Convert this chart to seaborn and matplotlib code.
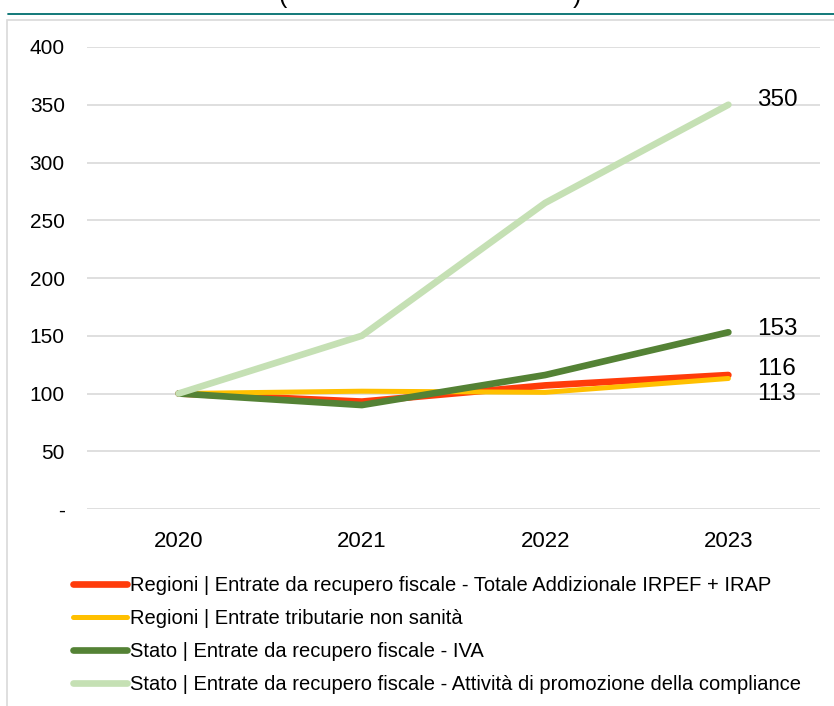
import matplotlib
matplotlib.use("Agg")
import matplotlib.pyplot as plt
import matplotlib.patches as mpatches
from matplotlib.lines import Line2D
import pandas as pd
import seaborn as sns

years = ["2020", "2021", "2022", "2023"]
series_names = [
    "Regioni | Entrate da recupero fiscale - Totale Addizionale IRPEF + IRAP",
    "Regioni | Entrate tributarie non sanità",
    "Stato | Entrate da recupero fiscale - IVA",
    "Stato | Entrate da recupero fiscale - Attività di promozione della compliance",
]
regioni_irpef_irap = [100, 93, 107, 116]
regioni_non_sanita = [100, 102, 101, 113]
stato_iva = [100, 90, 116, 153]
stato_compliance = [100, 150, 265, 350]
end_labels = ["116", "113", "153", "350"]
yticks = [0, 50, 100, 150, 200, 250, 300, 350, 400]
ytick_labels = ["-", "50", "100", "150", "200", "250", "300", "350", "400"]

colors = ["#FF3B0A", "#FFC000", "#548235", "#C5E0B4"]
widths = [4.8, 3.6, 4.8, 4.8]
label_dy = [4.5, -11.5, 2.5, 3.5]  # vertical nudge of end labels, points

values = [regioni_irpef_irap, regioni_non_sanita, stato_iva, stato_compliance]
df = pd.DataFrame(
    [(s, y, v) for s, vals in zip(series_names, values) for y, v in zip(years, vals)],
    columns=["serie", "anno", "valore"],
)

sns.set_theme(style="white")
plt.rcParams["font.family"] = ["Liberation Sans", "DejaVu Sans"]
plt.rcParams["text.color"] = "black"
plt.rcParams["xtick.color"] = "black"
plt.rcParams["ytick.color"] = "black"

fig = plt.figure(figsize=(8.34, 7.06), dpi=100)
ax = fig.add_axes([87 / 834, 1 - 509 / 706, (820 - 87) / 834, (509 - 47) / 706])

for name, col, lw in zip(series_names, colors, widths):
    sub = df[df["serie"] == name]
    sns.lineplot(data=sub, x="anno", y="valore", ax=ax, color=col, linewidth=lw,
                 solid_capstyle="round", legend=False, sort=False)

for vals, lab, dy in zip(values, end_labels, label_dy):
    ax.annotate(lab, xy=(3, vals[-1]), xytext=(21, dy), textcoords="offset points",
                ha="left", va="center", fontsize=17.5, color="black")

ax.set_xlim(-0.5, 3.5)
ax.set_ylim(0, 400)
ax.set_yticks(yticks)
ax.set_yticklabels(ytick_labels)
ax.grid(axis="y", color="#D9D9D9", linewidth=1.2)
ax.set_axisbelow(True)
for sp in ax.spines.values():
    sp.set_visible(False)
ax.tick_params(axis="y", labelsize=15, pad=16, length=0)
ax.tick_params(axis="x", labelsize=16, pad=16, length=0)
ax.set_xlabel("")
ax.set_ylabel("")

# outer light frame and teal rule
fig.patches.append(mpatches.Rectangle((7 / 834, -0.01), 1.0, 1 - 20 / 706 + 0.01,
                                      transform=fig.transFigure, fill=False,
                                      edgecolor="#D9D9D9", linewidth=1.2))
fig.add_artist(Line2D([8 / 834, 1.0], [1 - 14 / 706, 1 - 14 / 706],
                      transform=fig.transFigure, color="#006E6E", linewidth=1.3))
fig.text(283 / 834, 1 + 4 / 706, "(", fontsize=18, ha="center", va="center")
fig.text(577 / 834, 1 + 4 / 706, ")", fontsize=18, ha="center", va="center")

handles = [Line2D([], [], color=c, linewidth=lw, solid_capstyle="round")
           for c, lw in zip(colors, widths)]
fig.legend(handles, series_names, loc="upper left", bbox_to_anchor=(73 / 834, 1 - 576 / 706),
           frameon=False, fontsize=14.5, handlelength=2.7, handletextpad=0.12,
           labelspacing=0.7, borderaxespad=0, borderpad=0)

fig.savefig("out.png", dpi=100)
